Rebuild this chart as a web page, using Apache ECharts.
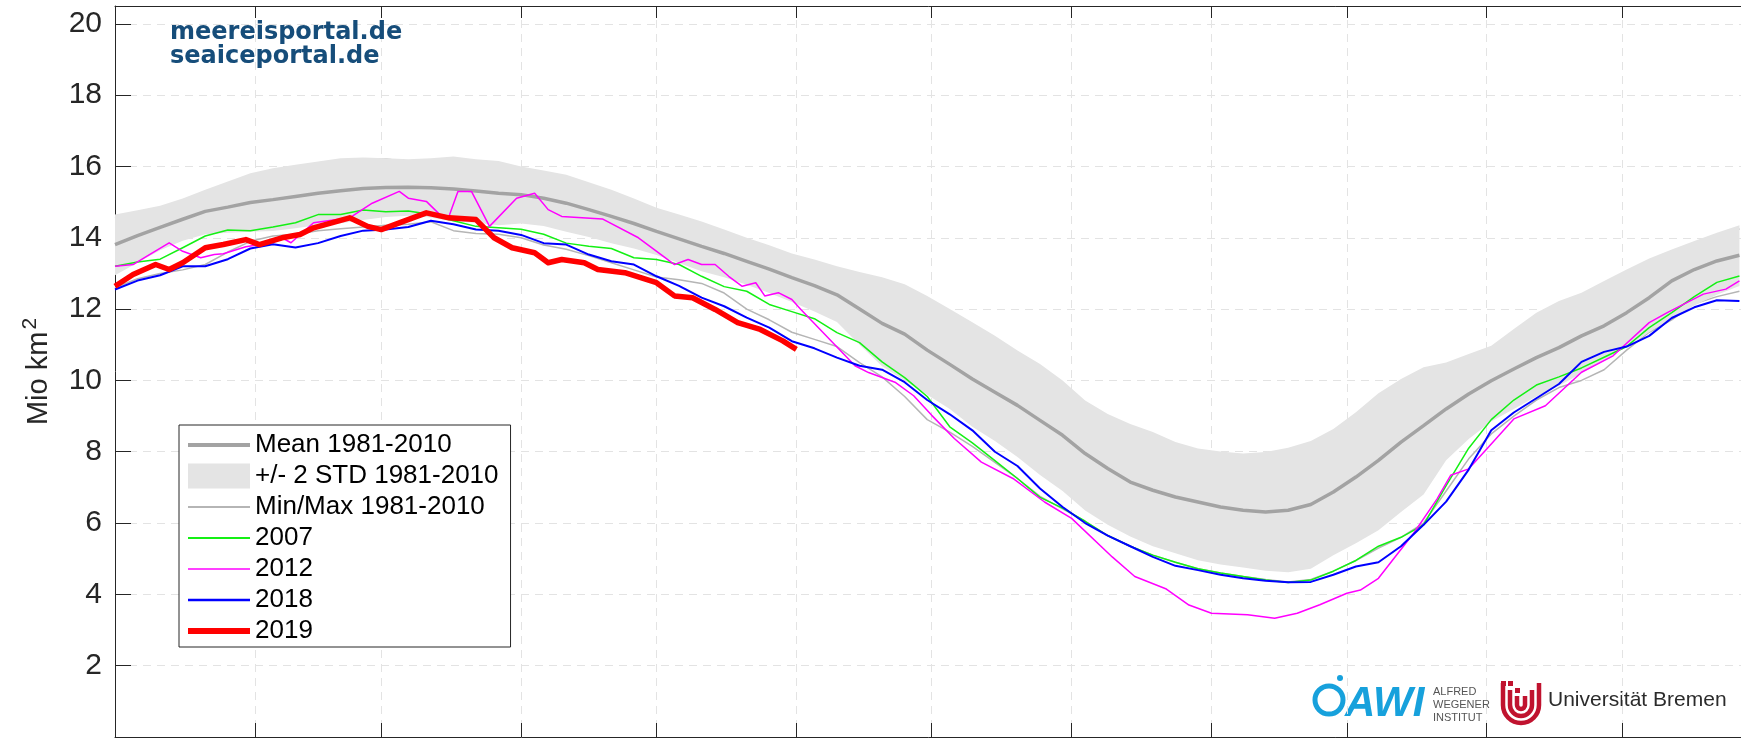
<!DOCTYPE html>
<html>
<head>
<meta charset="utf-8">
<title>Arctic sea ice extent</title>
<script src="https://cdn.jsdelivr.net/npm/echarts@6/dist/echarts.min.js"></script>
<style>
  html, body { margin: 0; padding: 0; background: #fff; }
  #chart { width: 1741px; height: 738px; }
</style>
</head>
<body>
<div id="chart"></div>
<script>
// day of year (0 = 1 Jan), 5-day grid shared by the climatology and 2007 / 2018
const days = [0, 5, 10, 15, 20, 25, 30, 35, 40, 45, 50, 55, 60, 65, 70, 75, 80, 85, 90, 95,
  100, 105, 110, 115, 120, 125, 130, 135, 140, 145, 150, 155, 160, 165, 170, 175, 180, 185, 190, 195,
  200, 205, 210, 215, 220, 225, 230, 235, 240, 245, 250, 255, 260, 265, 270, 275, 280, 285, 290, 295,
  300, 305, 310, 315, 320, 325, 330, 335, 340, 345, 350, 355, 360];

// month starts, used for the ticks
const monthTicks = [31, 59, 90, 120, 151, 181, 212, 243, 273, 304, 334];

const mean = [13.81, 14.06, 14.29, 14.52, 14.74, 14.86, 14.99, 15.07, 15.16, 15.25,
  15.32, 15.38, 15.41, 15.42, 15.40, 15.37, 15.31, 15.25, 15.21, 15.11,
  14.97, 14.79, 14.6, 14.4, 14.18, 13.97, 13.76, 13.56, 13.34, 13.12,
  12.88, 12.66, 12.4, 12.0, 11.6, 11.3, 10.85, 10.45, 10.04, 9.67,
  9.3, 8.88, 8.46, 7.95, 7.53, 7.15, 6.92, 6.73, 6.59, 6.45,
  6.36, 6.31, 6.36, 6.52, 6.87, 7.29, 7.76, 8.27, 8.73, 9.2,
  9.62, 9.99, 10.32, 10.64, 10.92, 11.25, 11.53, 11.9, 12.32, 12.79,
  13.11, 13.35, 13.51];

const stdTop = [14.65, 14.77, 14.9, 15.1, 15.35, 15.58, 15.81, 15.95, 16.05, 16.14,
  16.23, 16.25, 16.23, 16.2, 16.23, 16.28, 16.2, 16.15, 16.0, 15.89,
  15.77, 15.56, 15.35, 15.1, 14.84, 14.65, 14.46, 14.23, 14.0, 13.79,
  13.56, 13.39, 13.2, 13.04, 12.89, 12.7, 12.37, 12.0, 11.63, 11.25,
  10.84, 10.46, 10.0, 9.44, 9.06, 8.78, 8.55, 8.27, 8.09, 8.01,
  7.95, 7.99, 8.11, 8.3, 8.64, 9.11, 9.64, 10.04, 10.37, 10.5,
  10.74, 10.97, 11.44, 11.9, 12.23, 12.46, 12.79, 13.11, 13.42, 13.67,
  13.91, 14.14, 14.35];

const stdBottom = [12.95, 13.3, 13.65, 13.92, 14.1, 14.14, 14.17, 14.19, 14.27, 14.36,
  14.41, 14.5, 14.58, 14.62, 14.57, 14.46, 14.42, 14.35, 14.4, 14.33,
  14.17, 14.02, 13.85, 13.7, 13.52, 13.29, 13.06, 12.89, 12.68, 12.45,
  12.2, 11.93, 11.64, 11.0, 10.4, 10.0, 9.6, 9.2, 8.7, 8.3,
  7.85, 7.35, 6.9, 6.35, 5.95, 5.62, 5.35, 5.15, 4.96, 4.84,
  4.75, 4.66, 4.62, 4.72, 5.1, 5.43, 5.8, 6.31, 6.8, 7.76,
  8.36, 8.85, 9.2, 9.55, 9.85, 10.2, 10.55, 10.95, 11.35, 11.75,
  12.1, 12.4, 12.65];

const minExt = [12.6, 12.85, 13.0, 13.1, 13.25, 13.6, 13.9, 14.05, 14.1, 14.2,
  14.25, 14.3, 14.35, 14.38, 14.45, 14.2, 14.12, 14.1, 14.0, 13.8,
  13.68, 13.5, 13.3, 13.1, 12.9, 12.82, 12.72, 12.45, 12.0, 11.7,
  11.35, 11.15, 10.95, 10.5, 10.1, 9.55, 8.9, 8.55, 8.15, 7.7,
  7.25, 6.75, 6.4, 6.05, 5.65, 5.35, 5.1, 4.9, 4.72, 4.6,
  4.5, 4.42, 4.35, 4.42, 4.65, 4.95, 5.3, 5.6, 6.0, 6.9,
  7.8, 8.5, 9.0, 9.45, 9.8, 10.0, 10.3, 10.85, 11.35, 11.7,
  12.15, 12.35, 12.5];

const maxExt = [14.55, 14.67, 14.8, 15.0, 15.25, 15.48, 15.7, 15.85, 15.95, 16.04,
  16.12, 16.18, 16.2, 16.15, 16.12, 16.18, 16.1, 16.05, 15.9, 15.78,
  15.67, 15.46, 15.25, 15.0, 14.75, 14.55, 14.36, 14.13, 13.9, 13.69,
  13.46, 13.29, 13.1, 12.94, 12.79, 12.6, 12.27, 11.9, 11.53, 11.15,
  10.74, 10.36, 9.9, 9.34, 8.96, 8.68, 8.45, 8.17, 7.99, 7.91,
  7.85, 7.89, 8.01, 8.2, 8.54, 9.01, 9.54, 9.94, 10.27, 10.4,
  10.64, 10.87, 11.34, 11.8, 12.13, 12.36, 12.69, 13.01, 13.32, 13.57,
  13.81, 14.04, 14.25];

const y2007 = [13.2, 13.32, 13.4, 13.72, 14.05, 14.22, 14.2, 14.3, 14.42, 14.65,
  14.65, 14.78, 14.73, 14.75, 14.65, 14.48, 14.32, 14.28, 14.24, 14.1,
  13.85, 13.76, 13.7, 13.44, 13.39, 13.25, 12.92, 12.63, 12.5, 12.13,
  11.93, 11.73, 11.34, 11.06, 10.52, 10.08, 9.55, 8.7, 8.25, 7.75,
  7.25, 6.72, 6.42, 6.05, 5.65, 5.35, 5.1, 4.9, 4.72, 4.6,
  4.5, 4.4, 4.33, 4.4, 4.65, 4.95, 5.35, 5.6, 5.95, 7.05,
  8.1, 8.9, 9.45, 9.87, 10.1, 10.35, 10.65, 10.95, 11.48, 11.9,
  12.35, 12.75, 12.93];

const y2018 = [12.55, 12.8, 12.95, 13.2, 13.2, 13.4, 13.7, 13.82, 13.73, 13.85,
  14.05, 14.2, 14.23, 14.3, 14.48, 14.38, 14.23, 14.2, 14.08, 13.85,
  13.81, 13.53, 13.34, 13.25, 12.92, 12.65, 12.32, 12.08, 11.76, 11.48,
  11.1, 10.9, 10.64, 10.41, 10.3, 9.95, 9.45, 9.05, 8.6, 8.0,
  7.6, 6.97, 6.45, 6.0, 5.65, 5.35, 5.05, 4.8, 4.68, 4.55,
  4.45, 4.38, 4.34, 4.35, 4.55, 4.78, 4.9, 5.35, 5.95, 6.6,
  7.5, 8.6, 9.1, 9.5, 9.9, 10.52, 10.8, 10.95, 11.25, 11.75,
  12.05, 12.25, 12.23];

// 2012 has gaps bridged by straight segments, so it keeps its own days
const days2012 = [0, 4, 7, 12, 15, 19, 22, 24, 29, 34, 37, 39, 44, 52, 57, 63, 65, 69, 72, 74,
  76, 79, 83, 89, 93, 96, 99, 108, 116, 124, 127, 130, 133, 136, 139, 142, 144, 147, 150, 152,
  164, 167, 173, 177, 181, 186, 192, 199, 206, 212, 221, 226, 233, 238, 243, 251, 257, 262, 267, 273,
  276, 280, 288, 293, 296, 300, 304, 310, 317, 325, 332, 340, 344, 352, 357, 360];
const y2012 = [13.2, 13.25, 13.48, 13.86, 13.62, 13.44, 13.53, 13.55, 13.75, 13.85, 14.0, 13.86, 14.42, 14.56, 14.97, 15.3, 15.11, 15.02, 14.65, 14.6,
  15.3, 15.3, 14.32, 15.11, 15.25, 14.79, 14.6, 14.53, 14.0, 13.25, 13.39, 13.25, 13.25, 12.92, 12.64, 12.74, 12.37, 12.46, 12.27, 11.99,
  10.41, 10.22, 9.94, 9.57, 9.02, 8.37, 7.71, 7.25, 6.59, 6.13, 5.05, 4.5, 4.15, 3.7, 3.47, 3.43, 3.33, 3.47, 3.71, 4.03,
  4.12, 4.45, 5.75, 6.68, 7.34, 7.52, 8.08, 8.92, 9.29, 10.23, 10.69, 11.62, 11.9, 12.42, 12.56, 12.79];

// 2019 runs until the end of May
const days2019 = [0, 4, 9, 12, 15, 20, 24, 29, 32, 37, 41, 44, 52, 56, 59, 63, 69, 74, 80, 84,
  88, 93, 96, 99, 104, 107, 113, 120, 124, 128, 133, 138, 143, 148, 151];
const y2019 = [12.64, 12.97, 13.25, 13.11, 13.3, 13.72, 13.81, 13.95, 13.81, 14.0, 14.09, 14.28, 14.56, 14.32, 14.23, 14.42, 14.7, 14.56, 14.51, 14.0,
  13.72, 13.58, 13.3, 13.39, 13.3, 13.11, 13.02, 12.74, 12.37, 12.32, 11.99, 11.62, 11.43, 11.11, 10.87];

const pairs = (xs, ys) => ys.map((v, i) => [xs[i], v]);

const axisColor = '#262626';
const gridColor = '#e3e3e3';
const bandColor = '#e4e4e4';
const bremenRed = '#c0132f';
const awiBlue = '#17a1dc';

const chart = echarts.init(document.getElementById('chart'));

const yearLine = (name, xs, ys, color, width) => ({
  name: name,
  type: 'line',
  data: pairs(xs, ys),
  symbol: 'none',
  color: color,
  lineStyle: { color: color, width: width, join: 'round' },
  z: 5
});

// one "U" of the Bremen logo: two legs and a half circle
const bremenU = (cx, r, top) => [
  { type: 'line', shape: { x1: cx - r, y1: top, x2: cx - r, y2: 705 }, style: { stroke: bremenRed, lineWidth: 4.5 } },
  { type: 'line', shape: { x1: cx + r, y1: top, x2: cx + r, y2: 705 }, style: { stroke: bremenRed, lineWidth: 4.5 } },
  { type: 'arc', shape: { cx: cx, cy: 705, r: r, startAngle: 0, endAngle: Math.PI, clockwise: true },
    style: { stroke: bremenRed, lineWidth: 4.5, fill: 'none' } }
];

chart.setOption({
  animation: false,
  textStyle: { fontFamily: 'Liberation Sans, Arial, sans-serif' },
  grid: { left: 115, right: -21, top: 6, bottom: 1, outerBoundsMode: 'none' },
  xAxis: [
    {
      type: 'value',
      min: 0,
      max: 365,
      position: 'bottom',
      axisLine: { show: true, lineStyle: { color: axisColor, width: 1 } },
      axisTick: { show: true, inside: true, length: 14, customValues: monthTicks, lineStyle: { color: axisColor } },
      axisLabel: { show: false },
      splitLine: { show: true, lineStyle: { color: gridColor, type: [8, 6], width: 1 } }
    },
    {
      type: 'value',
      min: 0,
      max: 365,
      position: 'top',
      axisLine: { show: true, lineStyle: { color: axisColor, width: 1 } },
      axisTick: { show: true, inside: true, length: 12, customValues: monthTicks, lineStyle: { color: axisColor } },
      axisLabel: { show: false },
      splitLine: { show: false }
    }
  ],
  yAxis: {
    type: 'value',
    min: 0,
    max: 20.5,
    interval: 2,
    name: 'Mio km{sup|2}',
    nameLocation: 'middle',
    nameGap: 53,
    nameTextStyle: {
      fontSize: 29,
      color: axisColor,
      fontFamily: 'Liberation Sans',
      lineHeight: 38,
      rich: {
        sup: {
          fontSize: 21,
          color: axisColor,
          fontFamily: 'Liberation Sans',
          verticalAlign: 'top',
          lineHeight: 22,
          padding: [0, 0, 0, 2]
        }
      }
    },
    axisLine: { show: true, lineStyle: { color: axisColor, width: 1 } },
    axisTick: { show: true, inside: true, length: 16, lineStyle: { color: axisColor } },
    axisLabel: {
      fontSize: 30,
      color: axisColor,
      margin: 13,
      showMinLabel: false,
      showMaxLabel: false,
      fontFamily: 'Liberation Sans'
    },
    splitLine: { show: true, lineStyle: { color: gridColor, type: [8, 6], width: 1 } }
  },
  legend: {
    orient: 'vertical',
    left: 179,
    top: 425,
    padding: [6, 12, 2, 6],
    itemGap: 3,
    itemWidth: 62,
    itemHeight: 25,
    selectedMode: false,
    backgroundColor: '#fff',
    borderColor: axisColor,
    borderWidth: 1,
    borderRadius: 0,
    itemStyle: { opacity: 0, borderWidth: 0 },
    textStyle: { fontSize: 26, lineHeight: 28, color: '#000', fontFamily: 'Liberation Sans' },
    data: [
      { name: 'Mean 1981-2010', lineStyle: { width: 4, color: '#a3a3a3' } },
      { name: '+/- 2 STD 1981-2010', icon: 'rect', itemStyle: { opacity: 1, color: bandColor, borderWidth: 0 } },
      { name: 'Min/Max 1981-2010', lineStyle: { width: 2, color: '#b5b5b5' } },
      { name: '2007', lineStyle: { width: 2, color: '#14f014' } },
      { name: '2012', lineStyle: { width: 1.5, color: '#ff00ff' } },
      { name: '2018', lineStyle: { width: 2.5, color: '#0000ff' } },
      { name: '2019', lineStyle: { width: 6, color: '#ff0000' } }
    ]
  },
  series: [
    {
      name: 'Min/Max 1981-2010',
      type: 'line',
      data: pairs(days, minExt),
      symbol: 'none',
      color: '#b5b5b5',
      lineStyle: { color: '#b5b5b5', width: 1.5 },
      z: 1
    },
    {
      name: 'Min/Max 1981-2010',
      type: 'line',
      data: pairs(days, maxExt),
      symbol: 'none',
      color: '#b5b5b5',
      lineStyle: { color: '#8c8c8c', width: 1.5 },
      z: 1
    },
    {
      // the +/- 2 STD band, drawn as one polygon through the axis scales
      name: '+/- 2 STD 1981-2010',
      type: 'custom',
      data: days.map((d, i) => [d, stdBottom[i], stdTop[i]]),
      encode: { x: 0, y: [1, 2] },
      color: bandColor,
      itemStyle: { color: bandColor },
      renderItem: (params, api) => {
        if (params.dataIndex !== 0) {
          return null;
        }
        const upper = days.map((d, i) => api.coord([d, stdTop[i]]));
        const lower = days.map((d, i) => api.coord([d, stdBottom[i]])).reverse();
        return {
          type: 'polygon',
          shape: { points: upper.concat(lower) },
          style: { fill: bandColor, stroke: null }
        };
      },
      silent: true,
      z: 2
    },
    {
      name: 'Mean 1981-2010',
      type: 'line',
      data: pairs(days, mean),
      symbol: 'none',
      color: '#a3a3a3',
      lineStyle: { color: '#a3a3a3', width: 3.5 },
      z: 3
    },
    yearLine('2007', days, y2007, '#14f014', 1.5),
    yearLine('2012', days2012, y2012, '#ff00ff', 1.5),
    yearLine('2018', days, y2018, '#0000ff', 2),
    yearLine('2019', days2019, y2019, '#ff0000', 5.5)
  ],
  graphic: [
    {
      type: 'text',
      left: 170,
      top: 21,
      z: 100,
      style: {
        text: 'meereisportal.de\nseaiceportal.de',
        font: 'bold 24px "DejaVu Sans"',
        lineHeight: 24,
        fill: '#164d7a'
      }
    },
    // AWI logo
    {
      type: 'circle',
      shape: { cx: 1329, cy: 700, r: 14 },
      style: { fill: 'none', stroke: awiBlue, lineWidth: 5 }
    },
    {
      type: 'circle',
      shape: { cx: 1340, cy: 678, r: 3 },
      style: { fill: awiBlue }
    },
    {
      type: 'text',
      left: 1345,
      top: 683,
      style: { text: 'AWI', font: 'italic bold 42px "Liberation Sans"', fill: awiBlue }
    },
    {
      type: 'text',
      left: 1433,
      top: 685,
      style: {
        text: 'ALFRED\nWEGENER\nINSTITUT',
        font: '11px "Liberation Sans"',
        lineHeight: 13,
        fill: '#555'
      }
    },
    // Universität Bremen logo
    ...bremenU(1521, 18, 683),
    ...bremenU(1521, 11, 690),
    ...bremenU(1521, 4, 696),
    { type: 'rect', shape: { x: 1501, y: 681, width: 5, height: 5 }, style: { fill: bremenRed } },
    { type: 'rect', shape: { x: 1508, y: 681, width: 5, height: 5 }, style: { fill: bremenRed } },
    { type: 'rect', shape: { x: 1515, y: 688, width: 5, height: 5 }, style: { fill: bremenRed } },
    {
      type: 'text',
      left: 1548,
      top: 690,
      style: { text: 'Universität Bremen', font: '21px "Liberation Sans"', fill: '#2b2b2b' }
    }
  ]
});
</script>
</body>
</html>
